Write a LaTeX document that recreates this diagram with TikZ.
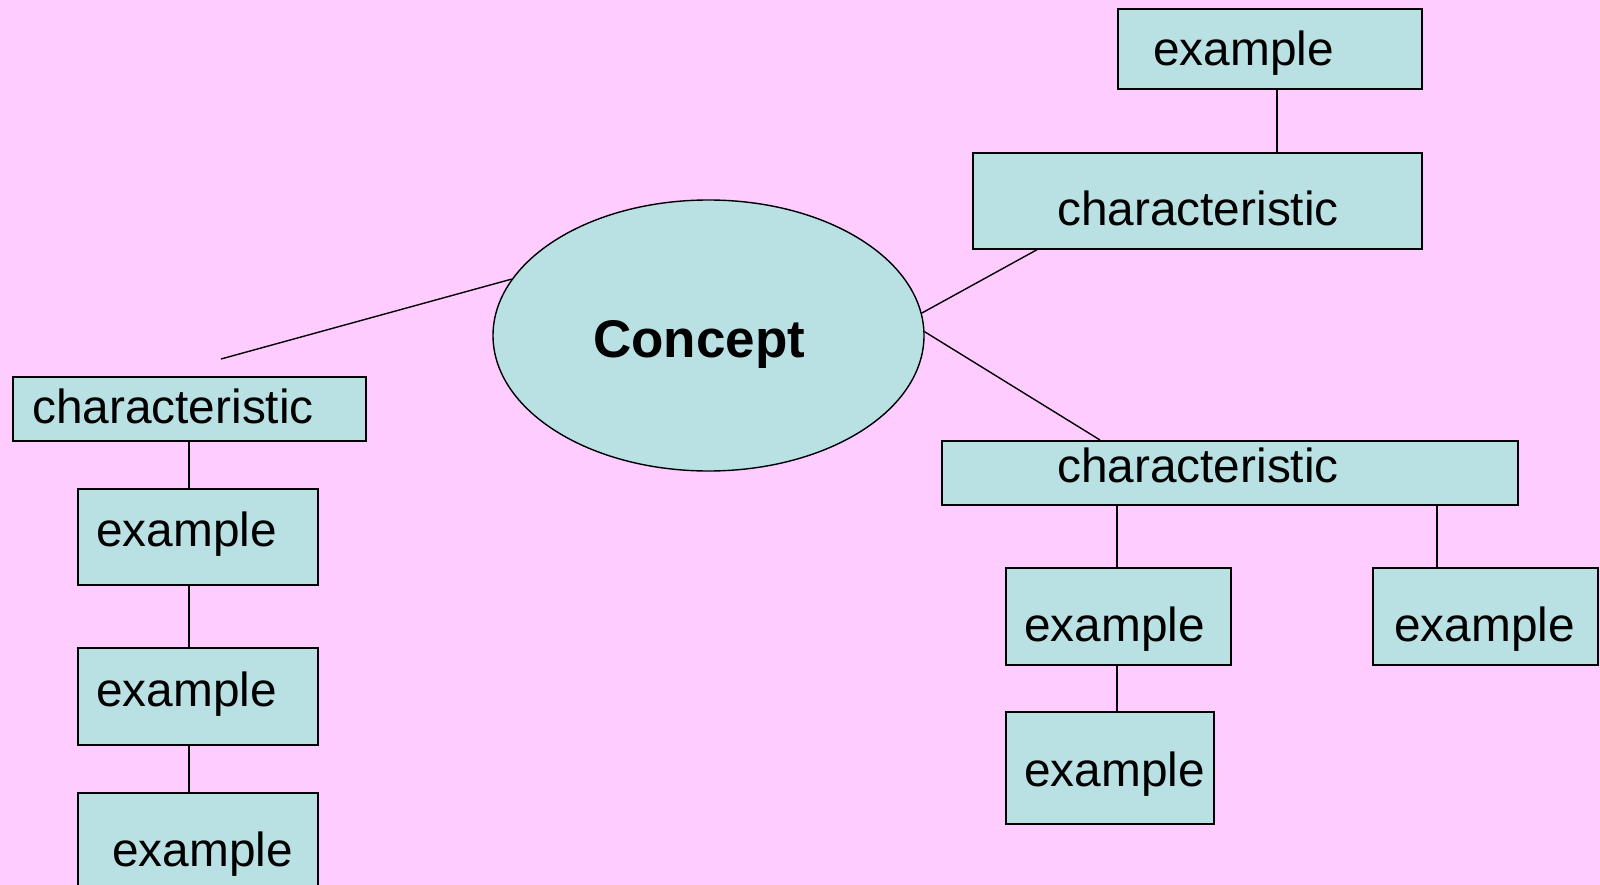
\documentclass[tikz,border=0pt]{standalone}
\usepackage{fontspec}
\setmainfont{Liberation Sans}
\usetikzlibrary{shapes.geometric}
\definecolor{bgpink}{RGB}{255,204,255}
\definecolor{boxfill}{RGB}{185,224,226}
\tikzset{
  box/.style={draw=black, fill=boxfill, line width=1.7pt, rectangle, inner sep=0pt, anchor=north west},
  txt/.style={inner sep=0pt, anchor=base west, font=\fontsize{47.8}{57}\selectfont},
  concepttxt/.style={inner sep=0pt, anchor=base west, font=\fontsize{53}{64}\selectfont\bfseries},
  link/.style={draw=black, line width=1.4pt},
}
\begin{document}
\begin{tikzpicture}[x=1pt,y=-1pt]
\useasboundingbox (0,0) rectangle (1600,885);
\fill[bgpink] (0,0) rectangle (1600,885);
\clip (0,0) rectangle (1600,885);

% concept ellipse
\node[ellipse, draw=black, fill=boxfill, line width=1.4pt, minimum width=431pt, minimum height=271pt, inner sep=0pt] (E) at (708.5,335.5) {};
\node[concepttxt] (Et) at (593,357) {Concept};

% top right branch
\node[box, minimum width=304pt, minimum height=80pt] (Tex) at (1117,8) {};
\node[txt] (Text) at (1153,66) {example};
\node[box, minimum width=449pt, minimum height=96pt] (Tch) at (972,152) {};
\node[txt] (Tcht) at (1057,226) {characteristic};

% lower right branch
\node[box, minimum width=576pt, minimum height=64pt] (Rch) at (941,440) {};
\node[txt] (Rcht) at (1057,482) {characteristic};
\node[box, minimum width=225pt, minimum height=97pt] (R1) at (1005,567) {};
\node[txt] (R1t) at (1024,641) {example};
\node[box, minimum width=208pt, minimum height=112pt] (R1b) at (1005,711) {};
\node[txt] (R1bt) at (1024,786) {example};
\node[box, minimum width=225pt, minimum height=97pt] (R2) at (1372,567) {};
\node[txt] (R2t) at (1394,641) {example};

% left branch
\node[box, minimum width=353pt, minimum height=64pt] (Lch) at (12,376) {};
\node[txt] (Lcht) at (32,423) {characteristic};
\node[box, minimum width=240pt, minimum height=96pt] (L1) at (77,488) {};
\node[txt] (L1t) at (96,546) {example};
\node[box, minimum width=240pt, minimum height=97pt] (L2) at (77,647) {};
\node[txt] (L2t) at (96,706) {example};
\node[box, minimum width=240pt, minimum height=110pt] (L3) at (77,792) {};
\node[txt] (L3t) at (112,866) {example};

\coordinate (Lfree) at (221,359);

% connectors
\draw[link] ([xshift=160pt]Tex.south west) -- ([xshift=305pt]Tch.north west);
\draw[link] ([xshift=65pt]Tch.south west) -- (E.6.6);
\draw[link] (E.1.7) -- ([xshift=159pt]Rch.north west);
\draw[link] ([xshift=176pt]Rch.south west) -- ([xshift=112pt]R1.north west);
\draw[link] ([xshift=112pt]R1.south west) -- ([xshift=112pt]R1b.north west);
\draw[link] ([xshift=496pt]Rch.south west) -- ([xshift=65pt]R2.north west);
\draw[link] (E.164.2) -- (Lfree);
\draw[link] ([xshift=177pt]Lch.south west) -- ([xshift=112pt]L1.north west);
\draw[link] ([xshift=112pt]L1.south west) -- ([xshift=112pt]L2.north west);
\draw[link] ([xshift=112pt]L2.south west) -- ([xshift=112pt]L3.north west);
\end{tikzpicture}
\end{document}
